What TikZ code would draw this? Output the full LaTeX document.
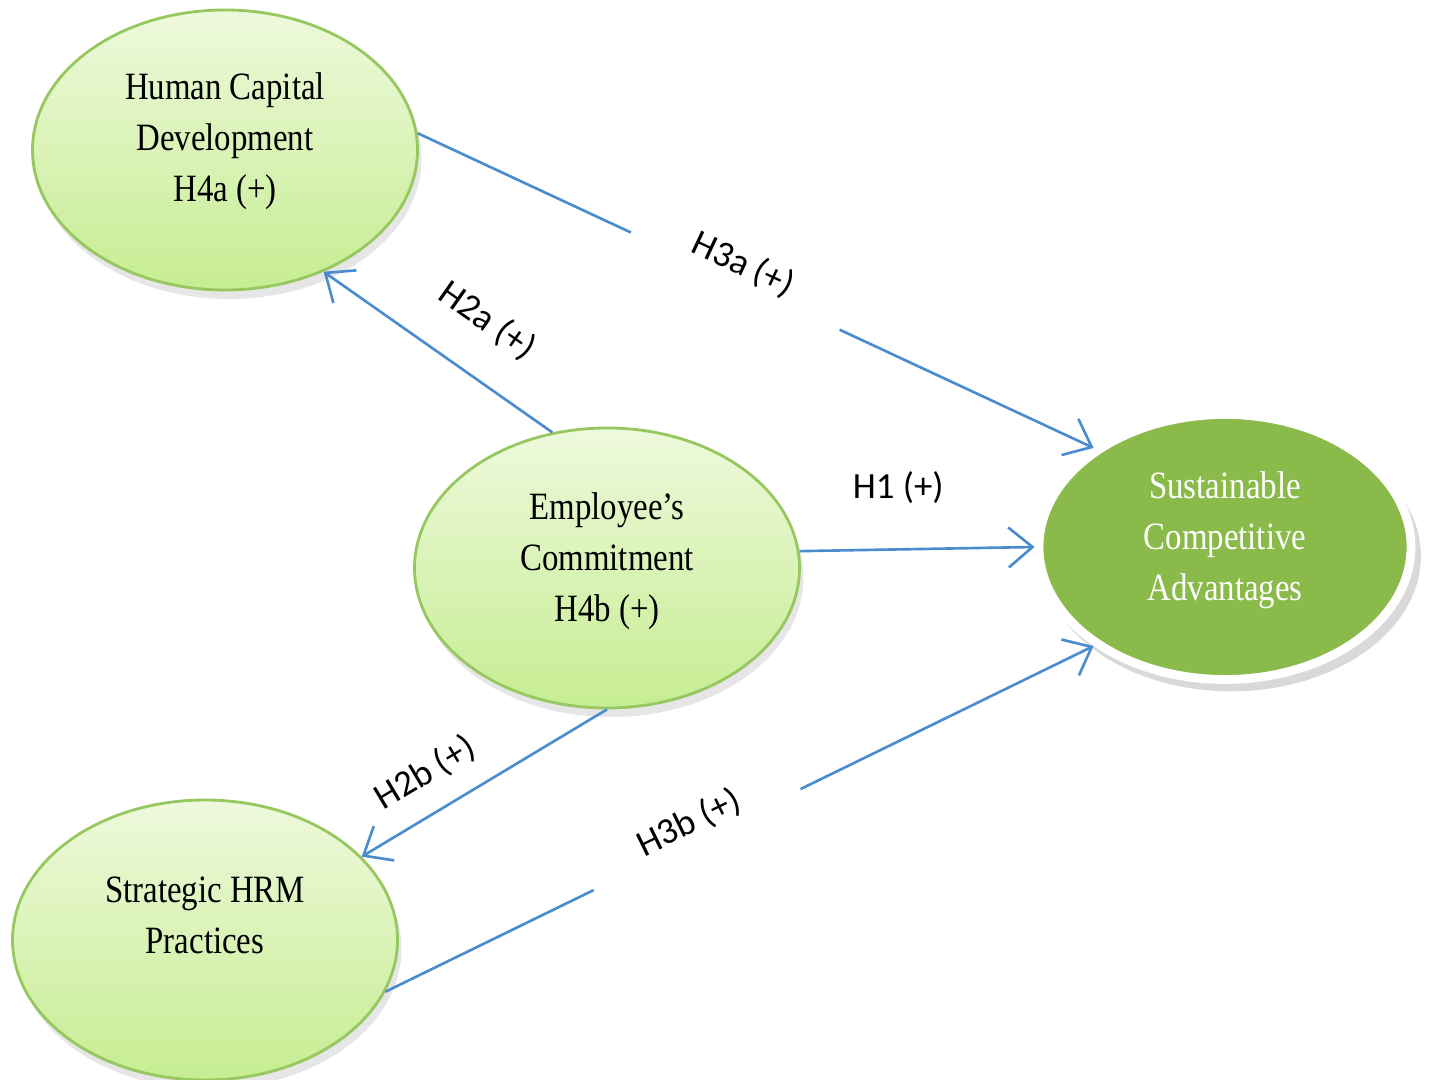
\documentclass[tikz,border=0pt]{standalone}
\usepackage{fontspec}
\setmainfont{Liberation Serif}
\newfontfamily\bubblefont[FakeStretch=0.85]{Liberation Serif}
\newfontfamily\hypfont{Carlito}
\usepackage{tikz}
\usetikzlibrary{arrows.meta,positioning,shapes.geometric,shadows}
\definecolor{linkblue}{RGB}{74,140,205}
\definecolor{bubbletop}{RGB}{238,249,220}
\definecolor{bubblebot}{RGB}{198,237,146}
\definecolor{bubbleedge}{RGB}{150,200,95}
\definecolor{outcomegreen}{RGB}{138,186,74}

\begin{document}
\begin{tikzpicture}[
		bubble/.style={ellipse, align=center, inner sep=0pt, font=\bubblefont\fontsize{11}{14.6}\selectfont},
		construct/.style={bubble, draw=bubbleedge, line width=0.8pt, top color=bubbletop, bottom color=bubblebot, minimum width=3.85cm, minimum height=2.8cm, drop shadow={shadow xshift=0.4mm, shadow yshift=-0.9mm, opacity=0.2}},
		outcome/.style={bubble, draw=white, line width=2.5pt, fill=outcomegreen, text=white, minimum width=3.72cm, minimum height=2.65cm, drop shadow={shadow scale=1.02, shadow xshift=0.6mm, shadow yshift=-0.9mm, opacity=0.3}},
		arrow/.style={-{Straight Barb[length=2.4mm,width=4mm]}, draw=linkblue, line width=0.75pt},
		hyp/.style={font=\hypfont\fontsize{10.5}{12}\selectfont},
		gap/.style={hyp, sloped, fill=white, inner sep=0pt, minimum width=2.3cm, text height=3mm, text depth=4.5mm}
	]
		\useasboundingbox (0,0) rectangle (14.29,10.80);
		\node[construct] (hcd) at (2.25,9.30) {Human Capital\\Development\\H4a (+)\rule[-2.6mm]{0pt}{0pt}};
		\node[construct] (ec) at (6.07,5.12) {Employee’s\\Commitment\\H4b (+)\rule[-2.2mm]{0pt}{0pt}};
		\node[construct] (shrm) at (2.05,1.40) {Strategic HRM\\Practices\rule[-5mm]{0pt}{0pt}};
		\node[outcome] (sca) at (12.25,5.33) {Sustainable\\Competitive\\Advantages\rule[-2.2mm]{0pt}{0pt}};
		\draw[arrow] (hcd.5) -- node[gap, pos=0.47] {H3a (+)} (sca.143);
		\draw[arrow] (ec.112) -- node[hyp, sloped, pos=0.42, above=2.5mm] {H2a (+)} (hcd.309);
		\draw[arrow] (ec.5) -- node[hyp, pos=0.42, above=3.3mm] {H1 (+)} (sca.west);
		\draw[arrow] (ec.south) -- node[hyp, sloped, pos=0.66, above=1mm] {H2b (+)} (shrm.28);
		\draw[arrow] (shrm.344) -- node[gap, pos=0.44] {H3b (+)} (sca.217);
	\end{tikzpicture}
\end{document}
